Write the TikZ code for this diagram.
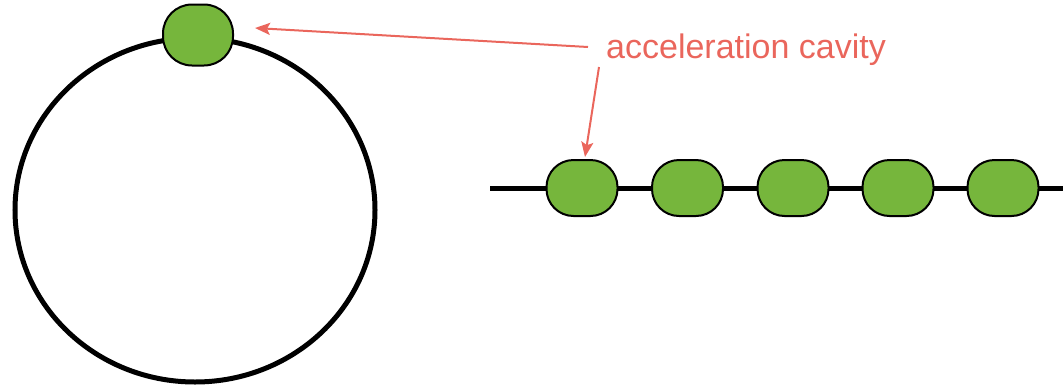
\documentclass[tikz,border=0pt]{standalone}
\usepackage{fontspec}
\setmainfont{Liberation Sans}
\usetikzlibrary{arrows.meta}
\definecolor{cavgreen}{RGB}{118,182,60}
\definecolor{labred}{RGB}{234,102,92}
\begin{document}
\begin{tikzpicture}[x=1pt,y=-1pt,
  cavity/.style={draw=black,line width=2pt,fill=cavgreen,rounded corners=27pt,
    minimum width=71pt,minimum height=56pt,inner sep=0pt},
  beam/.style={line width=5pt,black},
  pointer/.style={draw=labred,line width=2pt,-{Stealth[length=15pt,width=12pt,inset=3pt]}}]
\useasboundingbox (0,0) rectangle (1063,389);
% ring
\draw[beam] (195,210) ellipse [x radius=180, y radius=172];
\node[cavity,minimum height=61pt,minimum width=70pt,rounded corners=29pt] (ringcav) at (198,35) {};
% linear
\coordinate (lstart) at (490,188);
\coordinate (lend) at (1063,188);
\draw[beam] (lstart) -- (lend);
\foreach \i/\x in {1/582,2/687.5,3/793,4/898,5/1003}{
  \node[cavity] (lin\i) at (\x,188) {};
}
% label
\node[anchor=base west,inner sep=0pt,text=labred,font=\fontsize{34}{38}\selectfont] (label) at (606,58) {acceleration cavity};
\coordinate (a1s) at (588,47);
\coordinate (a1e) at (255,28);
\coordinate (a2s) at (599,67);
\coordinate (a2e) at (585,157);
\draw[pointer] (a1s) -- (a1e);
\draw[pointer] (a2s) -- (a2e);
\end{tikzpicture}
\end{document}
